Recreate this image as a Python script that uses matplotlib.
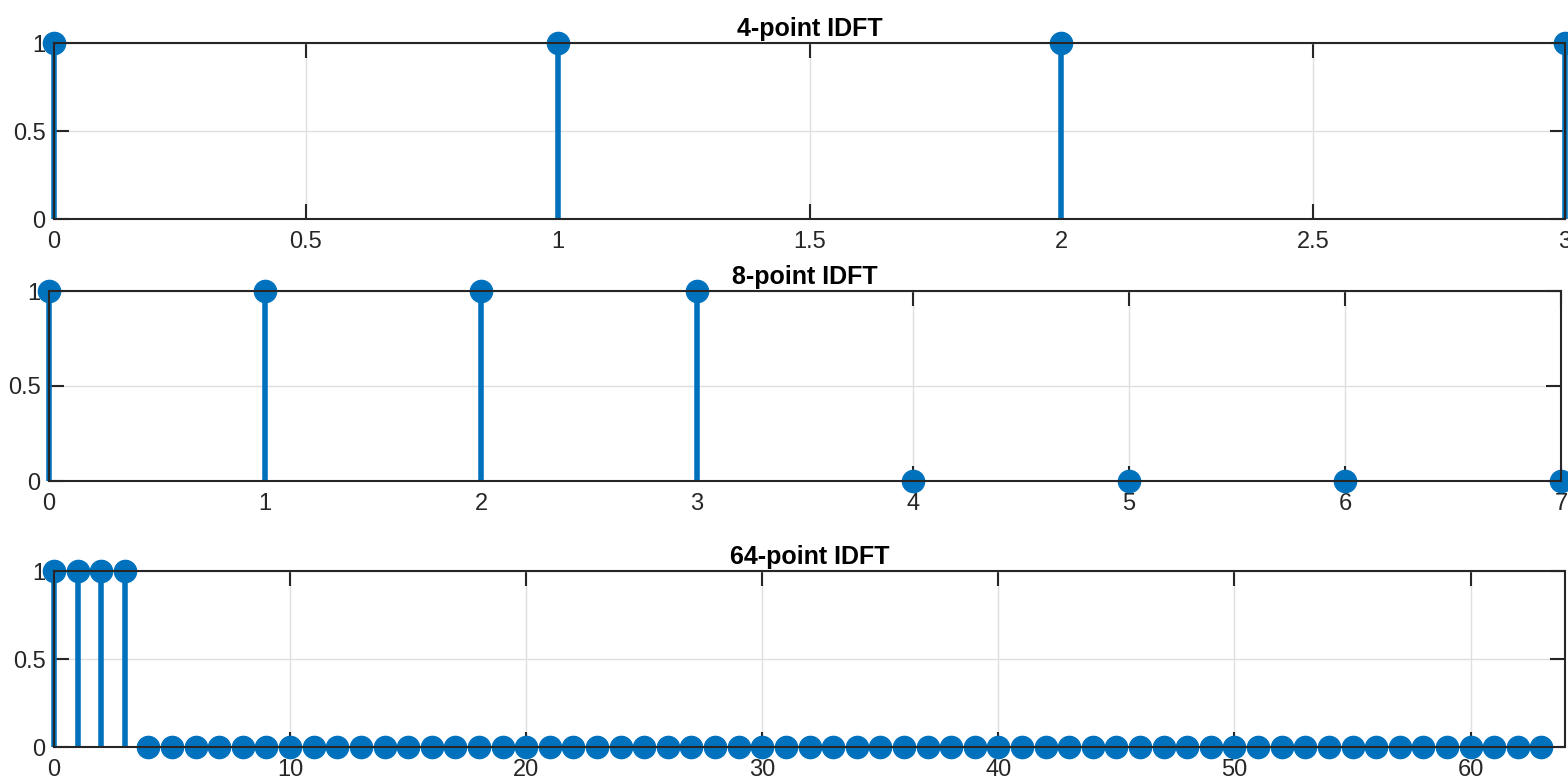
import numpy as np
import matplotlib.pyplot as plt
from matplotlib.ticker import FuncFormatter

# sequences
x4 = [1, 1, 1, 1]
x8 = [1, 1, 1, 1, 0, 0, 0, 0]
x64 = [1, 1, 1, 1, 0, 0, 0, 0, 0, 0, 0, 0, 0, 0, 0, 0,
       0, 0, 0, 0, 0, 0, 0, 0, 0, 0, 0, 0, 0, 0, 0, 0,
       0, 0, 0, 0, 0, 0, 0, 0, 0, 0, 0, 0, 0, 0, 0, 0,
       0, 0, 0, 0, 0, 0, 0, 0, 0, 0, 0, 0, 0, 0, 0, 0]
titles = ['4-point IDFT', '8-point IDFT', '64-point IDFT']
xticks4 = [0, 0.5, 1, 1.5, 2, 2.5, 3]
xticks8 = [0, 1, 2, 3, 4, 5, 6, 7]
xticks64 = [0, 10, 20, 30, 40, 50, 60]
yticks = [0, 0.5, 1]

blue = '#0072BD'
dark = '#262626'

plt.rcParams['font.family'] = ['Liberation Sans', 'DejaVu Sans']

fig = plt.figure(figsize=(15.68, 7.80), dpi=100)

# axes boxes in figure fractions (left, bottom, width, height)
boxes = [(54/1568, 561/780, 1511/1568, 176/780),
         (49/1568, 299/780, 1512/1568, 190/780),
         (54/1568, 33/780, 1511/1568, 176/780)]
data = [x4, x8, x64]
ticks = [xticks4, xticks8, xticks64]
xmax = [3, 7, 64]

fmt = FuncFormatter(lambda v, p: '%g' % v)

for box, y, tt, xt, xm in zip(boxes, data, titles, ticks, xmax):
    ax = fig.add_axes(box)
    n = np.arange(len(y))
    ml, sl, bl = ax.stem(n, y, linefmt='-', markerfmt='o', basefmt=' ')
    plt.setp(sl, color=blue, linewidth=4.0, clip_on=False)
    plt.setp(ml, color=blue, markersize=16, clip_on=False, zorder=5)
    bl.set_visible(False)
    ax.set_xlim(0, xm)
    ax.set_ylim(0, 1)
    ax.set_xticks(xt)
    ax.set_yticks(yticks)
    ax.xaxis.set_major_formatter(fmt)
    ax.yaxis.set_major_formatter(fmt)
    ax.grid(True, color='#dfdfdf', linewidth=1.0)
    ax.set_axisbelow(True)
    ax.tick_params(direction='in', length=11, width=1.5, color=dark,
                   labelsize=17, labelcolor=dark, top=True, right=True)
    ax.tick_params(axis='x', pad=9)
    ax.tick_params(axis='y', pad=6)
    for t in ax.xaxis.get_major_ticks() + ax.yaxis.get_major_ticks():
        t.tick1line.set_zorder(7)
        t.tick2line.set_zorder(7)
    for s in ax.spines.values():
        s.set_color(dark)
        s.set_linewidth(1.5)
        s.set_zorder(6)
    ax.set_title(tt, fontsize=18, fontweight='bold', color='black', pad=5)

fig.savefig('out.png', dpi=100)
